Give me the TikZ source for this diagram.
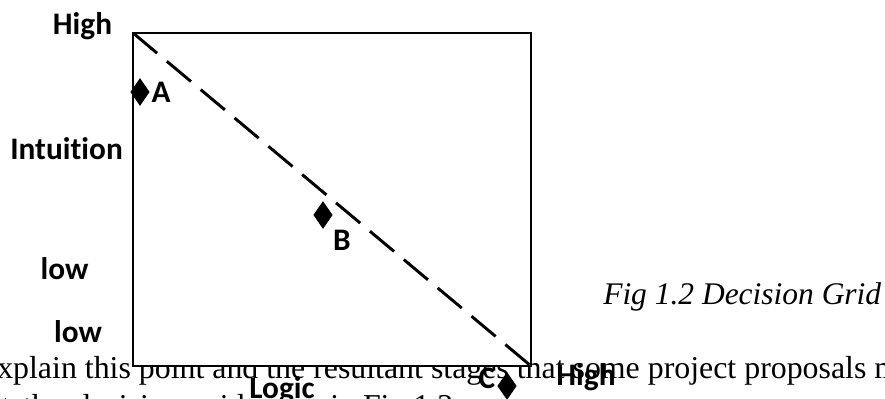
\documentclass[tikz,border=0pt]{standalone}
\usepackage{fontspec}
\setmainfont{Liberation Serif}
\newfontfamily\labelfont[RawFeature=-liga]{Carlito}
\usetikzlibrary{shapes.geometric}
\begin{document}
\begin{tikzpicture}[x=0.75pt,y=-0.75pt,
  lbl/.style={inner sep=0pt,anchor=base,font=\labelfont\fontsize{23.5}{28}\selectfont\bfseries},
  body/.style={inner sep=0pt,anchor=base west,font=\fontsize{23.9}{28}\selectfont},
  gridbox/.style={draw=black,fill=white,line width=1.1pt},
  diagline/.style={line width=2.2pt,dash pattern=on 23.6pt off 9.5pt},
  diam/.style={diamond,fill=black,draw=none,inner sep=0pt,minimum width=14.5pt,minimum height=21pt}]
\useasboundingbox (0,0) rectangle (885,399);
\clip (0,0) rectangle (885,399);
% running text behind the grid
\node[body] (line1) at (-3,378) {xplain this point and the resultant stages that some project proposals may};
\node[body,anchor=base east] (line2a) at (245,416) {\spaceskip=9.5pt at the decision grid};
\node[body] (line2b) at (330,416) {in Fig 1.2};
% grid
\coordinate (tl) at (133,33);
\coordinate (br) at (531,366);
\draw[gridbox] (tl) rectangle (br);
\draw[diagline] (tl) -- (br);
% points
\node[diam] (dA) at (140,92) {};
\node[diam] (dB) at (323,215) {};
\node[diam] (dC) at (507,386) {};
\node[lbl] (A) at (161,103) {A};
\node[lbl] (B) at (342,250) {B};
\node[lbl] (C) at (487,388) {C};
% axis labels
\node[lbl] (hi1) at (82.5,35) {High};
\node[lbl] (intu) at (66.5,160) {Intuition};
\node[lbl] (low1) at (64.5,279) {low};
\node[lbl] (low2) at (78,342) {low};
\node[lbl] (logic) at (282,398) {Logic};
\node[lbl] (hi2) at (586,385) {High};
% caption
\node[body,font=\fontsize{23.6}{28}\selectfont\itshape] (cap) at (603,304) {Fig 1.2 Decision Grid};
\end{tikzpicture}
\end{document}
